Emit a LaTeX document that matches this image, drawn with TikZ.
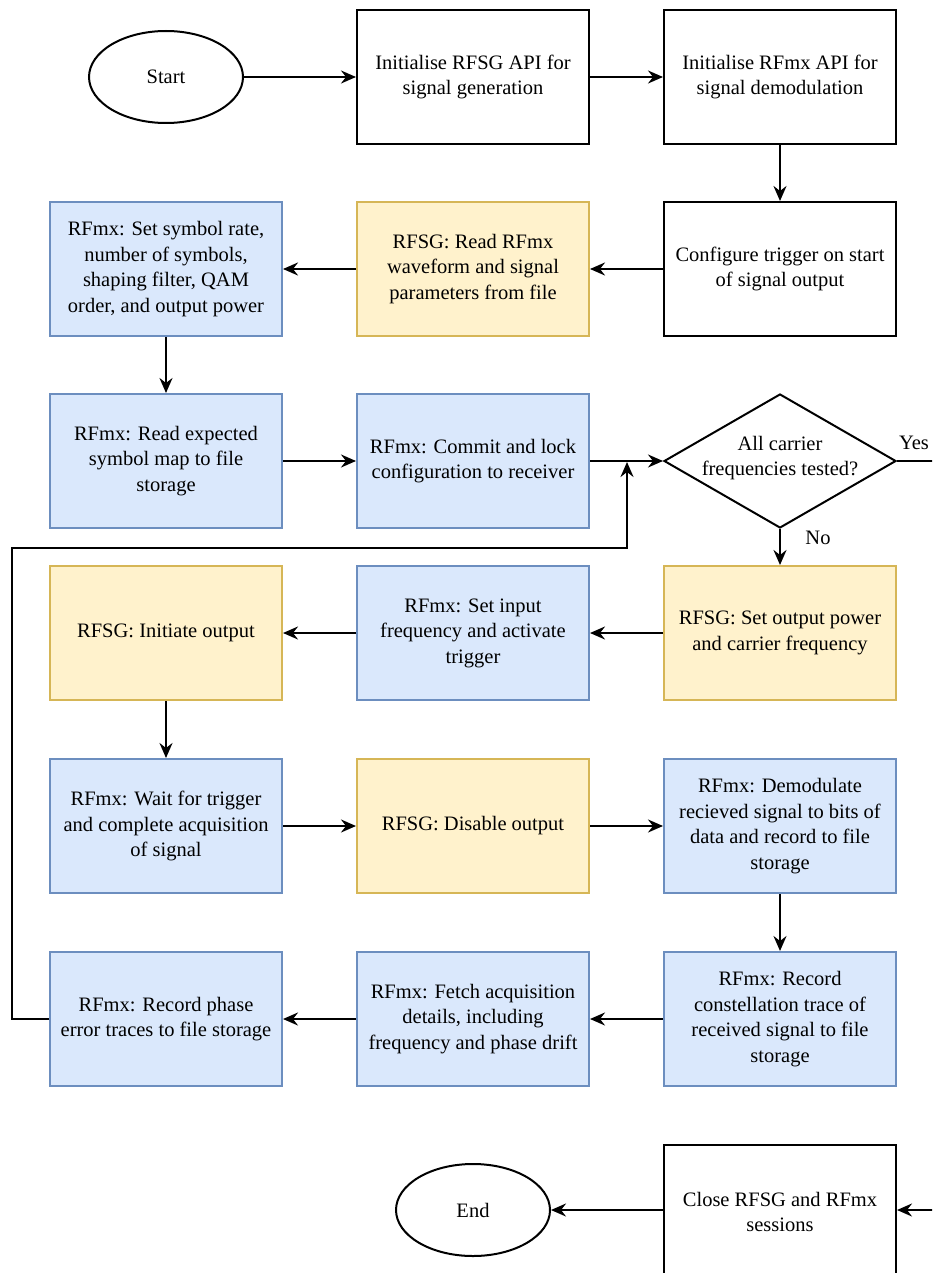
\documentclass[tikz,border=0pt]{standalone}
\usepackage{fontspec}
\setmainfont{Liberation Serif}
\usetikzlibrary{shapes.geometric,arrows.meta}
\definecolor{bfill}{HTML}{DAE8FC}
\definecolor{bdraw}{HTML}{6C8EBF}
\definecolor{yfill}{HTML}{FFF2CC}
\definecolor{ydraw}{HTML}{D6B656}
\begin{document}
\begin{tikzpicture}[x=1pt,y=-1pt,
  txt/.style={font=\fontsize{20.5}{25.5}\selectfont, align=center},
  box/.style={txt, draw=black, fill=white, line width=2pt, minimum width=232pt, minimum height=134pt, inner sep=0pt},
  bbox/.style={box, draw=bdraw, fill=bfill},
  ybox/.style={box, draw=ydraw, fill=yfill},
  term/.style={txt, draw=black, line width=2pt, ellipse, inner sep=0pt},
  arr/.style={line width=2.2pt, -{Stealth[length=15pt,width=13pt,inset=5pt]}},
  ln/.style={line width=2.2pt}
]
\useasboundingbox (0,0) rectangle (932,1273);
\clip (0,0) rectangle (932,1273);

\node[term, minimum width=154pt, minimum height=92pt] (start) at (166,77) {Start};
\node[box] (A) at (473,77) {Initialise RFSG API for\\signal generation};
\node[box] (B) at (780,77) {Initialise RFmx API for\\signal demodulation};
\node[box] (C) at (780,269) {Configure trigger on start\\of signal output};
\node[ybox] (D) at (473,269) {RFSG: Read RFmx\\waveform and signal\\parameters from file};
\node[bbox] (E) at (166,269) {RFmx: Set symbol rate,\\number of symbols,\\shaping filter, QAM\\order, and output power};
\node[bbox] (F) at (166,461) {RFmx: Read expected\\symbol map to file\\storage};
\node[bbox] (G) at (473,461) {RFmx: Commit and lock\\configuration to receiver};
\node[diamond, draw=black, fill=white, line width=2pt, minimum width=232pt, minimum height=134pt, inner sep=0pt, aspect=1.73] (dia) at (780,461) {};
\node[txt] (dial) at (780,458) {All carrier\\frequencies tested?};
\node[ybox] (H) at (780,633) {RFSG: Set output power\\and carrier frequency};
\node[bbox] (I) at (473,633) {RFmx: Set input\\frequency and activate\\trigger};
\node[ybox] (J) at (166,633) {RFSG: Initiate output};
\node[bbox] (K) at (166,826) {RFmx: Wait for trigger\\and complete acquisition\\of signal};
\node[ybox] (L) at (473,826) {RFSG: Disable output};
\node[bbox] (M) at (780,826) {RFmx: Demodulate\\recieved signal to bits of\\data and record to file\\storage};
\node[bbox] (N) at (780,1019) {RFmx: Record\\constellation trace of\\received signal to file\\storage};
\node[bbox] (O) at (473,1019) {RFmx: Fetch acquisition\\details, including\\frequency and phase drift};
\node[bbox] (P) at (166,1019) {RFmx: Record phase\\error traces to file storage};
\node[box] (Q) at (780,1212) {Close RFSG and RFmx\\sessions};
\node[term, minimum width=154pt, minimum height=92pt] (end) at (473,1210) {End};

\node[txt] (yes) at (914,443) {Yes};
\node[txt] (no) at (818,538) {No};

\draw[arr] (start) -- (A);
\draw[arr] (A) -- (B);
\draw[arr] (B) -- (C);
\draw[arr] (C) -- (D);
\draw[arr] (D) -- (E);
\draw[arr] (E) -- (F);
\draw[arr] (F) -- (G);
\draw[arr] (G) -- (dia.west);
\draw[arr] (dia.south) -- (H);
\draw[arr] (H) -- (I);
\draw[arr] (I) -- (J);
\draw[arr] (J) -- (K);
\draw[arr] (K) -- (L);
\draw[arr] (L) -- (M);
\draw[arr] (M) -- (N);
\draw[arr] (N) -- (O);
\draw[arr] (O) -- (P);
\coordinate (l1) at (12,1019);
\coordinate (l2) at (12,548);
\coordinate (l3) at (627,548);
\coordinate (l4) at (627,462);
\draw[arr] (P.west) -- (l1) -- (l2) -- (l3) -- (l4);
\coordinate (yr) at (934,461);
\draw[ln] (dia.east) -- (yr);
\coordinate (yb) at (934,1210);
\draw[arr] (yb) -- (Q.east|-yb);
\draw[arr] (Q.west|-end) -- (end);
\end{tikzpicture}
\end{document}
